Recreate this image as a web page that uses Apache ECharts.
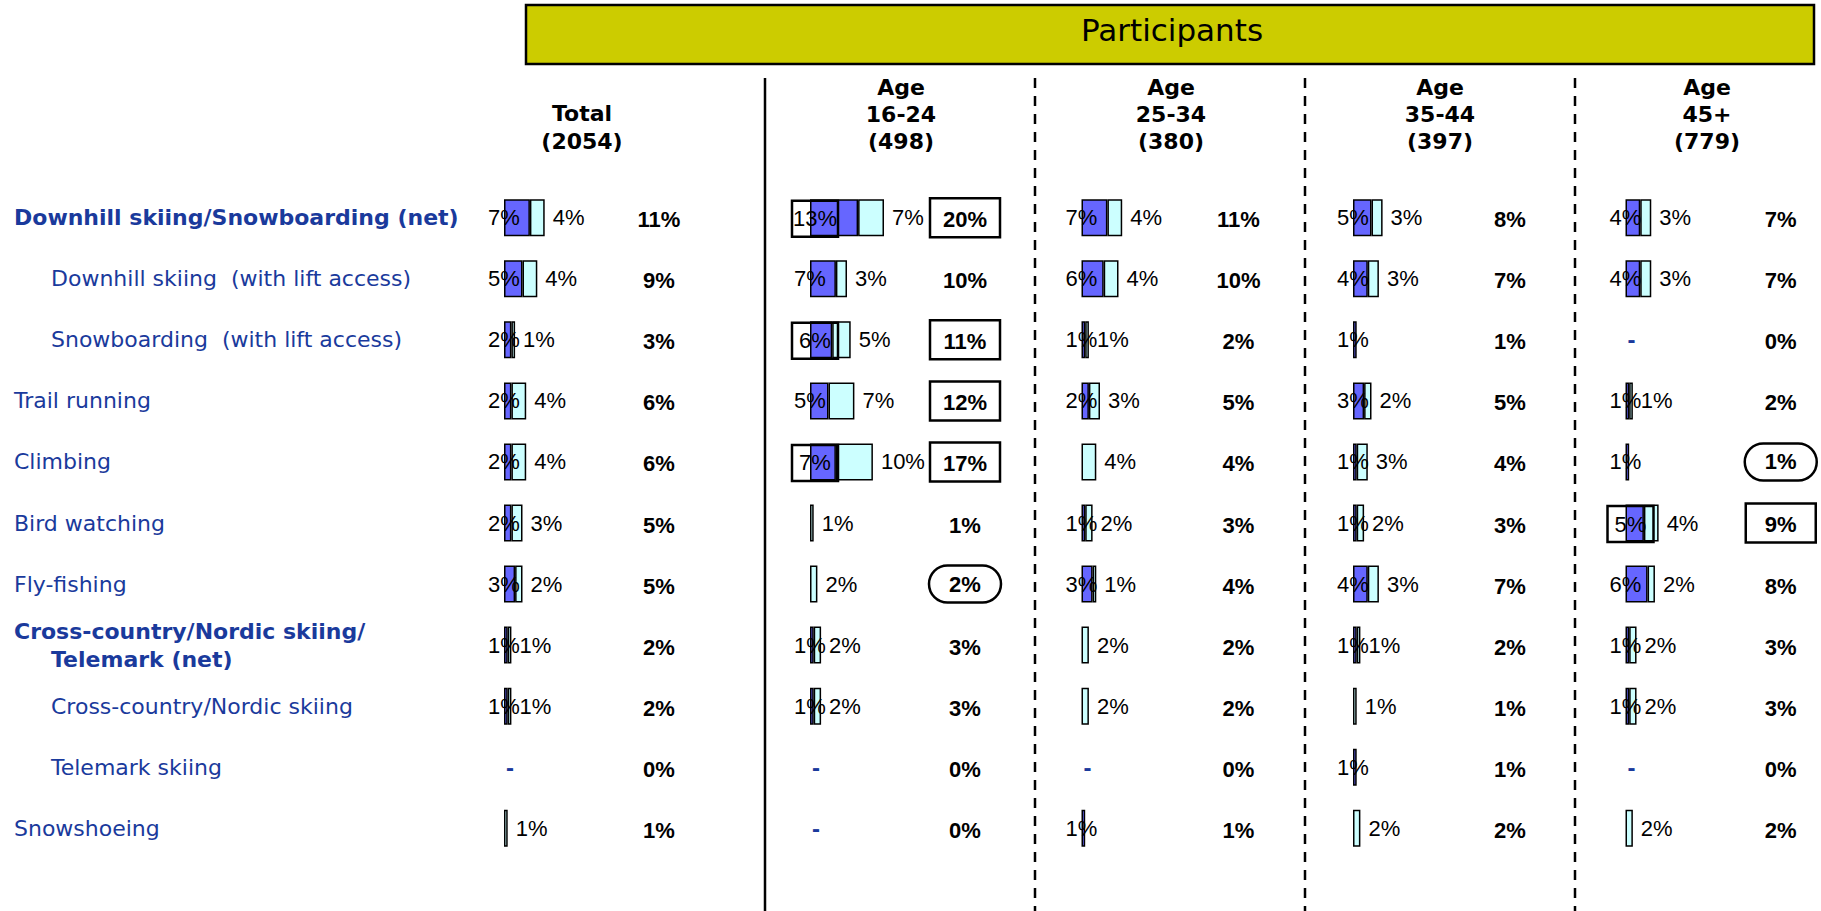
<!DOCTYPE html>
<html><head><meta charset="utf-8">
<script src="https://cdn.jsdelivr.net/npm/echarts@6/dist/echarts.min.js"></script>
<style>html,body{margin:0;padding:0;background:#fff}#c{width:1821px;height:911px}</style>
</head><body><div id="c"></div>
<script>
// ---------------- DATA ----------------
const categories = [
  'Downhill skiing/Snowboarding (net)',
  'Downhill skiing  (with lift access)',
  'Snowboarding  (with lift access)',
  'Trail running',
  'Climbing',
  'Bird watching',
  'Fly-fishing',
  'Cross-country/Nordic skiing/\nTelemark (net)',
  'Cross-country/Nordic skiing',
  'Telemark skiing',
  'Snowshoeing'
];
const categoryIndent = [0,1,1,0,0,0,0,0,1,1,0];
const categoryBold   = [1,0,0,0,0,0,0,1,0,0,0];

const mainTitle = 'Participants';
const groupHeaders = [
  ['Total','(2054)'],
  ['Age','16-24','(498)'],
  ['Age','25-34','(380)'],
  ['Age','35-44','(397)'],
  ['Age','45+','(779)']
];

// dark segment, light segment, net total (%)
const darkTotal  = [7,5,2,2,2,2,3,1,1,0,0];
const lightTotal = [4,4,1,4,4,3,2,1,1,0,1];
const netTotal   = [11,9,3,6,6,5,5,2,2,0,1];

const dark1624  = [13,7,6,5,7,0,0,1,1,0,0];
const light1624 = [7,3,5,7,10,1,2,2,2,0,0];
const net1624   = [20,10,11,12,17,1,2,3,3,0,0];

const dark2534  = [7,6,1,2,0,1,3,0,0,0,1];
const light2534 = [4,4,1,3,4,2,1,2,2,0,0];
const net2534   = [11,10,2,5,4,3,4,2,2,0,1];

const dark3544  = [5,4,1,3,1,1,4,1,0,1,0];
const light3544 = [3,3,0,2,3,2,3,1,1,0,2];
const net3544   = [8,7,1,5,4,3,7,2,1,1,2];

const dark45  = [4,4,0,1,1,5,6,1,1,0,0];
const light45 = [3,3,0,1,0,4,2,2,2,0,2];
const net45   = [7,7,0,2,1,9,8,3,3,0,2];

// highlight marks on net totals ('box' / 'oval') and on dark labels
const netMarksTotal = ['','','','','','','','','','',''];
const netMarks1624  = ['box','','box','box','box','','oval','','','',''];
const netMarks2534  = ['','','','','','','','','','',''];
const netMarks3544  = ['','','','','','','','','','',''];
const netMarks45    = ['','','','','oval','box','','','','',''];
const darkMarks1624 = ['box','','box','','box','','','','','',''];
const darkMarks45   = ['','','','','','box','','','','',''];
const noMarks       = ['','','','','','','','','','',''];

const darkCols  = [darkTotal, dark1624, dark2534, dark3544, dark45];
const lightCols = [lightTotal, light1624, light2534, light3544, light45];
const netCols   = [netTotal, net1624, net2534, net3544, net45];
const netMarkCols  = [netMarksTotal, netMarks1624, netMarks2534, netMarks3544, netMarks45];
const darkMarkCols = [noMarks, darkMarks1624, noMarks, noMarks, darkMarks45];

// ---------------- LAYOUT / STYLE ----------------
const BLUE = '#1A3A9C';
const DARK = '#6666FF';
const LIGHT = '#CCFFFF';
const zeroX  = [504, 810, 1081.5, 1353, 1625.5];
const totalX = [659, 965, 1238.5, 1510, 1781.5];
const headerX = [582, 901, 1171, 1440, 1707];
const gridW = 148, axisMax = 40;
const gridTop = 187.2, gridH = 671.6;
const labelFont = 'DejaVu Sans';
const numFont = 'Liberation Sans, Arial, sans-serif';

const chart = echarts.init(document.getElementById('c'), null, {renderer: 'svg'});

const grids = [], xAxes = [], yAxes = [], series = [];
for (let c = 0; c < 5; c++) {
  grids.push({left: zeroX[c], top: gridTop, width: gridW, height: gridH, containLabel: false});
  xAxes.push({type: 'value', gridIndex: c, min: 0, max: axisMax, show: false});
  const leftAxis = {
    type: 'category', gridIndex: c, inverse: true, data: categories, position: 'left',
    axisLine: {show: false}, axisTick: {show: false}, splitLine: {show: false},
    axisLabel: {show: false}
  };
  if (c === 0) {
    leftAxis.axisLabel = {
      show: true, interval: 0, align: 'left', margin: zeroX[0] - 14,
      formatter: (value, idx) => {
        const lines = categories[idx].split('\n');
        const b = categoryBold[idx] ? 'b' : 'n';
        return lines.map((ln, k) => '{' + b + ((k > 0 || categoryIndent[idx]) ? 'i' : '') + '|' + ln + '}').join('\n');
      },
      rich: {
        b:  {fontFamily: labelFont, fontSize: 22, fontWeight: 'bold', color: BLUE, lineHeight: 28},
        bi: {fontFamily: labelFont, fontSize: 22, fontWeight: 'bold', color: BLUE, lineHeight: 28, padding: [0,0,0,37]},
        n:  {fontFamily: labelFont, fontSize: 22, color: BLUE, lineHeight: 28},
        ni: {fontFamily: labelFont, fontSize: 22, color: BLUE, lineHeight: 28, padding: [0,0,0,37]}
      }
    };
  }
  yAxes.push(leftAxis);
  const nets = netCols[c], marks = netMarkCols[c];
  yAxes.push({
    type: 'category', gridIndex: c, inverse: true, data: categories, position: 'right',
    axisLine: {show: false}, axisTick: {show: false}, splitLine: {show: false},
    axisLabel: {
      show: true, interval: 0, align: 'center', margin: totalX[c] - (zeroX[c] + gridW),
      formatter: (value, idx) => {
        const m = marks[idx] || 't';
        return '{' + m + '|' + nets[idx] + '%}';
      },
      rich: {
        t:    {fontFamily: numFont, fontSize: 22, fontWeight: 'bold', color: '#000', padding: [4,0,0,0]},
        box:  {fontFamily: numFont, fontSize: 22, fontWeight: 'bold', color: '#000', width: 70, height: 36, lineHeight: 36, align: 'center', borderColor: '#000', borderWidth: 2.5, padding: [3,0,0,0]},
        oval: {fontFamily: numFont, fontSize: 22, fontWeight: 'bold', color: '#000', width: 72, height: 37, lineHeight: 37, align: 'center', borderColor: '#000', borderWidth: 2.5, borderRadius: 20}
      }
    }
  });

  const darks = darkCols[c], lights = lightCols[c], dmarks = darkMarkCols[c];
  series.push({
    type: 'bar', name: 'dark' + c, xAxisIndex: c, yAxisIndex: 2 * c, stack: 's' + c,
    barWidth: 37, silent: true, animation: false,
    itemStyle: {color: DARK, borderColor: '#000', borderWidth: 1.5},
    data: darks.map((v, i) => {
      const item = {value: v};
      if (v === 0) item.itemStyle = {color: 'rgba(0,0,0,0)', borderWidth: 0};
      const showIt = v > 0 || nets[i] === 0;
      const lab = {show: showIt};
      if (nets[i] === 0) lab.offset = [6, 0];
      else if (dmarks[i]) lab.offset = [5, 1];
      item.label = lab;
      return item;
    }),
    label: {
      position: [0, '50%'], align: 'center', verticalAlign: 'middle',
      fontFamily: numFont, fontSize: 22, color: '#000',
      formatter: p => {
        const i = p.dataIndex;
        if (nets[i] === 0) return '{d|-}';
        if (dmarks[i]) return '{bx|' + darks[i] + '%}';
        return darks[i] + '%';
      },
      rich: {
        d:  {fontFamily: numFont, fontSize: 24, fontWeight: 'bold', color: BLUE},
        bx: {fontFamily: numFont, fontSize: 22, color: '#000', width: 46, height: 36, lineHeight: 36, align: 'center', borderColor: '#000', borderWidth: 2.5}
      }
    }
  });
  series.push({
    type: 'bar', name: 'light' + c, xAxisIndex: c, yAxisIndex: 2 * c, stack: 's' + c,
    barWidth: 37, silent: true, animation: false,
    itemStyle: {color: LIGHT, borderColor: '#000', borderWidth: 1.5},
    data: lights.map(v => {
      const item = {value: v, label: {show: v > 0}};
      if (v === 0) item.itemStyle = {color: 'rgba(0,0,0,0)', borderWidth: 0};
      return item;
    }),
    label: {
      position: 'right', distance: 8,
      fontFamily: numFont, fontSize: 22, color: '#000',
      formatter: p => lights[p.dataIndex] + '%'
    }
  });
}

// header / frame graphics
const graphics = [
  {type: 'rect', shape: {x: 526, y: 5, width: 1288, height: 59}, style: {fill: '#CCCC00', stroke: '#000', lineWidth: 2.5}, z: 1},
  {type: 'text', x: 1172, y: 30, z: 2, style: {text: mainTitle, font: '31px "DejaVu Sans"', fill: '#000', textAlign: 'center', textVerticalAlign: 'middle', align: 'center', verticalAlign: 'middle'}},
  {type: 'line', shape: {x1: 765, y1: 78, x2: 765, y2: 911}, style: {stroke: '#000', lineWidth: 2.5}},
];
[1035, 1305, 1575].forEach(x => graphics.push({
  type: 'line', shape: {x1: x, y1: 78, x2: x, y2: 911},
  style: {stroke: '#000', lineWidth: 2.5, lineDash: [10, 8]}
}));
groupHeaders.forEach((lines, c) => {
  const ys = lines.length === 3 ? [87, 114, 141] : [113, 141];
  lines.forEach((t, k) => graphics.push({
    type: 'text', x: headerX[c], y: ys[k],
    style: {text: t, font: 'bold 22px "DejaVu Sans"', fill: '#000', textAlign: 'center', textVerticalAlign: 'middle', align: 'center', verticalAlign: 'middle'}
  }));
});

chart.setOption({
  animation: false,
  backgroundColor: '#fff',
  grid: grids, xAxis: xAxes, yAxis: yAxes, series: series,
  graphic: graphics
});
</script>
</body></html>
